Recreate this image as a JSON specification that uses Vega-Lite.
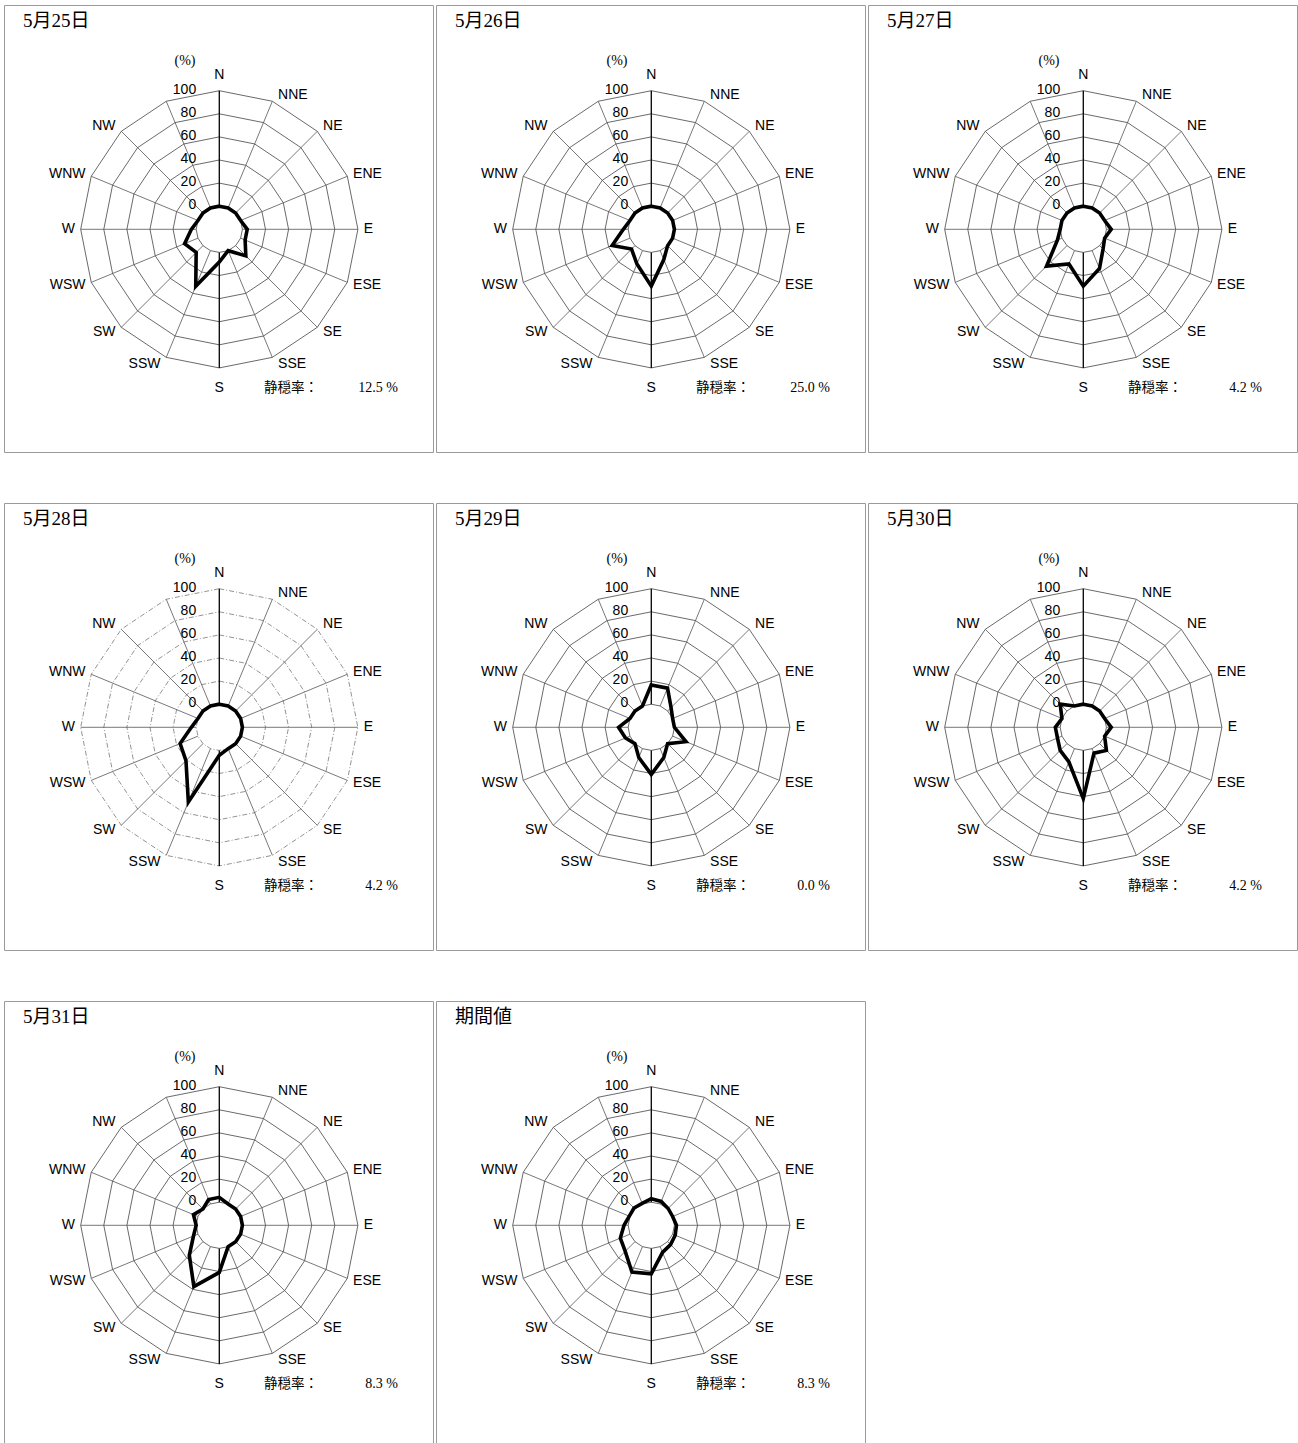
{
"$schema": "https://vega.github.io/schema/vega-lite/v6.json",
"padding": {"left": 3, "top": 4, "right": 0, "bottom": 0},
"background": "white",
"data": {"values": [
{"day":"5月25日","idx":0,"dir":"N","v":0},{"day":"5月25日","idx":1,"dir":"NNE","v":0},{"day":"5月25日","idx":2,"dir":"NE","v":0},{"day":"5月25日","idx":3,"dir":"ENE","v":0},{"day":"5月25日","idx":4,"dir":"E","v":4.2},{"day":"5月25日","idx":5,"dir":"ESE","v":4.2},{"day":"5月25日","idx":6,"dir":"SE","v":12.5},{"day":"5月25日","idx":7,"dir":"SSE","v":0},{"day":"5月25日","idx":8,"dir":"S","v":8.3},{"day":"5月25日","idx":9,"dir":"SSW","v":33.3},{"day":"5月25日","idx":10,"dir":"SW","v":8.3},{"day":"5月25日","idx":11,"dir":"WSW","v":12.5},{"day":"5月25日","idx":12,"dir":"W","v":4.2},{"day":"5月25日","idx":13,"dir":"WNW","v":0},{"day":"5月25日","idx":14,"dir":"NW","v":0},{"day":"5月25日","idx":15,"dir":"NNW","v":0},
{"day":"5月26日","idx":0,"dir":"N","v":0},{"day":"5月26日","idx":1,"dir":"NNE","v":0},{"day":"5月26日","idx":2,"dir":"NE","v":0},{"day":"5月26日","idx":3,"dir":"ENE","v":0},{"day":"5月26日","idx":4,"dir":"E","v":0},{"day":"5月26日","idx":5,"dir":"ESE","v":0},{"day":"5月26日","idx":6,"dir":"SE","v":0},{"day":"5月26日","idx":7,"dir":"SSE","v":8.3},{"day":"5月26日","idx":8,"dir":"S","v":29.2},{"day":"5月26日","idx":9,"dir":"SSW","v":12.5},{"day":"5月26日","idx":10,"dir":"SW","v":4.2},{"day":"5月26日","idx":11,"dir":"WSW","v":16.7},{"day":"5月26日","idx":12,"dir":"W","v":4.2},{"day":"5月26日","idx":13,"dir":"WNW","v":0},{"day":"5月26日","idx":14,"dir":"NW","v":0},{"day":"5月26日","idx":15,"dir":"NNW","v":0},
{"day":"5月27日","idx":0,"dir":"N","v":0},{"day":"5月27日","idx":1,"dir":"NNE","v":0},{"day":"5月27日","idx":2,"dir":"NE","v":0},{"day":"5月27日","idx":3,"dir":"ENE","v":0},{"day":"5月27日","idx":4,"dir":"E","v":4.2},{"day":"5月27日","idx":5,"dir":"ESE","v":0},{"day":"5月27日","idx":6,"dir":"SE","v":4.2},{"day":"5月27日","idx":7,"dir":"SSE","v":16.7},{"day":"5月27日","idx":8,"dir":"S","v":29.2},{"day":"5月27日","idx":9,"dir":"SSW","v":12.5},{"day":"5月27日","idx":10,"dir":"SW","v":25.0},{"day":"5月27日","idx":11,"dir":"WSW","v":4.2},{"day":"5月27日","idx":12,"dir":"W","v":0},{"day":"5月27日","idx":13,"dir":"WNW","v":0},{"day":"5月27日","idx":14,"dir":"NW","v":0},{"day":"5月27日","idx":15,"dir":"NNW","v":0},
{"day":"5月28日","idx":0,"dir":"N","v":0},{"day":"5月28日","idx":1,"dir":"NNE","v":0},{"day":"5月28日","idx":2,"dir":"NE","v":0},{"day":"5月28日","idx":3,"dir":"ENE","v":0},{"day":"5月28日","idx":4,"dir":"E","v":0},{"day":"5月28日","idx":5,"dir":"ESE","v":0},{"day":"5月28日","idx":6,"dir":"SE","v":0},{"day":"5月28日","idx":7,"dir":"SSE","v":0},{"day":"5月28日","idx":8,"dir":"S","v":4.2},{"day":"5月28日","idx":9,"dir":"SSW","v":50.0},{"day":"5月28日","idx":10,"dir":"SW","v":20.8},{"day":"5月28日","idx":11,"dir":"WSW","v":16.7},{"day":"5月28日","idx":12,"dir":"W","v":4.2},{"day":"5月28日","idx":13,"dir":"WNW","v":0},{"day":"5月28日","idx":14,"dir":"NW","v":0},{"day":"5月28日","idx":15,"dir":"NNW","v":0},
{"day":"5月29日","idx":0,"dir":"N","v":16.7},{"day":"5月29日","idx":1,"dir":"NNE","v":16.7},{"day":"5月29日","idx":2,"dir":"NE","v":4.2},{"day":"5月29日","idx":3,"dir":"ENE","v":0},{"day":"5月29日","idx":4,"dir":"E","v":0},{"day":"5月29日","idx":5,"dir":"ESE","v":12.5},{"day":"5月29日","idx":6,"dir":"SE","v":0},{"day":"5月29日","idx":7,"dir":"SSE","v":8.3},{"day":"5月29日","idx":8,"dir":"S","v":20.8},{"day":"5月29日","idx":9,"dir":"SSW","v":8.3},{"day":"5月29日","idx":10,"dir":"SW","v":0},{"day":"5月29日","idx":11,"dir":"WSW","v":4.2},{"day":"5月29日","idx":12,"dir":"W","v":8.3},{"day":"5月29日","idx":13,"dir":"WNW","v":0},{"day":"5月29日","idx":14,"dir":"NW","v":0},{"day":"5月29日","idx":15,"dir":"NNW","v":0},
{"day":"5月30日","idx":0,"dir":"N","v":0},{"day":"5月30日","idx":1,"dir":"NNE","v":0},{"day":"5月30日","idx":2,"dir":"NE","v":0},{"day":"5月30日","idx":3,"dir":"ENE","v":0},{"day":"5月30日","idx":4,"dir":"E","v":4.2},{"day":"5月30日","idx":5,"dir":"ESE","v":0},{"day":"5月30日","idx":6,"dir":"SE","v":8.3},{"day":"5月30日","idx":7,"dir":"SSE","v":4.2},{"day":"5月30日","idx":8,"dir":"S","v":41.7},{"day":"5月30日","idx":9,"dir":"SSW","v":12.5},{"day":"5月30日","idx":10,"dir":"SW","v":8.3},{"day":"5月30日","idx":11,"dir":"WSW","v":4.2},{"day":"5月30日","idx":12,"dir":"W","v":4.2},{"day":"5月30日","idx":13,"dir":"WNW","v":0},{"day":"5月30日","idx":14,"dir":"NW","v":8.3},{"day":"5月30日","idx":15,"dir":"NNW","v":0},
{"day":"5月31日","idx":0,"dir":"N","v":4.2},{"day":"5月31日","idx":1,"dir":"NNE","v":0},{"day":"5月31日","idx":2,"dir":"NE","v":0},{"day":"5月31日","idx":3,"dir":"ENE","v":0},{"day":"5月31日","idx":4,"dir":"E","v":0},{"day":"5月31日","idx":5,"dir":"ESE","v":0},{"day":"5月31日","idx":6,"dir":"SE","v":0},{"day":"5月31日","idx":7,"dir":"SSE","v":0},{"day":"5月31日","idx":8,"dir":"S","v":20.8},{"day":"5月31日","idx":9,"dir":"SSW","v":37.5},{"day":"5月31日","idx":10,"dir":"SW","v":16.7},{"day":"5月31日","idx":11,"dir":"WSW","v":4.2},{"day":"5月31日","idx":12,"dir":"W","v":0},{"day":"5月31日","idx":13,"dir":"WNW","v":4.2},{"day":"5月31日","idx":14,"dir":"NW","v":0},{"day":"5月31日","idx":15,"dir":"NNW","v":4.2},
{"day":"期間値","idx":0,"dir":"N","v":3.0},{"day":"期間値","idx":1,"dir":"NNE","v":2.4},{"day":"期間値","idx":2,"dir":"NE","v":0.6},{"day":"期間値","idx":3,"dir":"ENE","v":0},{"day":"期間値","idx":4,"dir":"E","v":1.8},{"day":"期間値","idx":5,"dir":"ESE","v":2.4},{"day":"期間値","idx":6,"dir":"SE","v":3.6},{"day":"期間値","idx":7,"dir":"SSE","v":5.4},{"day":"期間値","idx":8,"dir":"S","v":22.0},{"day":"期間値","idx":9,"dir":"SSW","v":23.8},{"day":"期間値","idx":10,"dir":"SW","v":11.9},{"day":"期間値","idx":11,"dir":"WSW","v":9.0},{"day":"期間値","idx":12,"dir":"W","v":3.6},{"day":"期間値","idx":13,"dir":"WNW","v":0.6},{"day":"期間値","idx":14,"dir":"NW","v":1.2},{"day":"期間値","idx":15,"dir":"NNW","v":0.6},
{"day":"5月25日","calm":12.5},{"day":"5月26日","calm":25.0},{"day":"5月27日","calm":4.2},{"day":"5月28日","calm":4.2},{"day":"5月29日","calm":0.0},{"day":"5月30日","calm":4.2},{"day":"5月31日","calm":8.3},{"day":"期間値","calm":8.3}
]},
"facet": {"field": "day", "type": "nominal", "header": {"title": null, "labels": false, "labelExpr": "''", "labelFontSize": 0, "labelPadding": 0}, "sort": ["5月25日","5月26日","5月27日","5月28日","5月29日","5月30日","5月31日","期間値"]},
"columns": 3,
"spacing": {"row": 49, "column": 1},
"spec": {
 "width": 429, "height": 447,
 "encoding": {
  "x": {"field": "px", "type": "quantitative", "scale": {"domain": [-186.4, 185.03], "nice": false, "zero": false}, "axis": null},
  "y": {"field": "py", "type": "quantitative", "scale": {"domain": [-192.8, 194.2], "nice": false, "zero": false}, "axis": null}
 },
 "layer": [
  {"transform": [
    {"filter": "isValid(datum.dir) && datum.day !== '5月28日'"},
    {"calculate": "[0,20,40,60,80,100]", "as": "ring"},
    {"flatten": ["ring"]},
    {"calculate": "(datum.ring+20)*sin(datum.idx*PI/8)", "as": "px"},
    {"calculate": "(datum.ring+20)*cos(datum.idx*PI/8)", "as": "py"}],
   "mark": {"type": "line", "interpolate": "linear-closed", "stroke": "#444", "strokeWidth": 0.8},
   "encoding": {"detail": {"field": "ring", "type": "nominal"}, "order": {"field": "idx", "type": "quantitative"}}},
  {"transform": [
    {"filter": "isValid(datum.dir) && datum.day === '5月28日'"},
    {"calculate": "[0,20,40,60,80,100]", "as": "ring"},
    {"flatten": ["ring"]},
    {"calculate": "(datum.ring+20)*sin(datum.idx*PI/8)", "as": "px"},
    {"calculate": "(datum.ring+20)*cos(datum.idx*PI/8)", "as": "py"}],
   "mark": {"type": "line", "interpolate": "linear-closed", "stroke": "#777", "strokeWidth": 0.8, "strokeDash": [5, 2, 1, 2]},
   "encoding": {"detail": {"field": "ring", "type": "nominal"}, "order": {"field": "idx", "type": "quantitative"}}},
  {"transform": [
    {"filter": "isValid(datum.dir)"},
    {"calculate": "20*sin(datum.idx*PI/8)", "as": "px"},
    {"calculate": "20*cos(datum.idx*PI/8)", "as": "py"},
    {"calculate": "120*sin(datum.idx*PI/8)", "as": "px2"},
    {"calculate": "120*cos(datum.idx*PI/8)", "as": "py2"}],
   "mark": {"type": "rule"},
   "encoding": {
    "x2": {"field": "px2"}, "y2": {"field": "py2"},
    "color": {"condition": {"test": "datum.idx % 8 === 0", "value": "#000"}, "value": "#555"},
    "strokeWidth": {"condition": {"test": "datum.idx % 8 === 0", "value": 1.3}, "value": 0.8}}},
  {"transform": [
    {"filter": "isValid(datum.dir)"},
    {"calculate": "(datum.v+20)*sin(datum.idx*PI/8)", "as": "px"},
    {"calculate": "(datum.v+20)*cos(datum.idx*PI/8)", "as": "py"}],
   "mark": {"type": "line", "interpolate": "linear-closed", "stroke": "#000", "strokeWidth": 3.6, "strokeJoin": "miter"},
   "encoding": {"order": {"field": "idx", "type": "quantitative"}}},
  {"transform": [
    {"filter": "isValid(datum.dir) && datum.idx > 0 && datum.idx < 8"},
    {"calculate": "120*sin(datum.idx*PI/8) + 5", "as": "px"},
    {"calculate": "126*cos(datum.idx*PI/8)", "as": "py"}],
   "mark": {"type": "text", "align": "left", "baseline": "middle", "font": "Liberation Sans", "fontSize": 14, "color": "#000"},
   "encoding": {"text": {"field": "dir", "type": "nominal"}}},
  {"transform": [
    {"filter": "isValid(datum.dir) && datum.idx > 8 && datum.idx < 15"},
    {"calculate": "120*sin(datum.idx*PI/8) - 5", "as": "px"},
    {"calculate": "126*cos(datum.idx*PI/8)", "as": "py"}],
   "mark": {"type": "text", "align": "right", "baseline": "middle", "font": "Liberation Sans", "fontSize": 14, "color": "#000"},
   "encoding": {"text": {"field": "dir", "type": "nominal"}}},
  {"transform": [
    {"filter": "isValid(datum.dir) && datum.idx % 8 === 0"},
    {"calculate": "0", "as": "px"},
    {"calculate": "datum.idx === 0 ? 134 : -137", "as": "py"}],
   "mark": {"type": "text", "align": "center", "baseline": "middle", "font": "Liberation Sans", "fontSize": 14, "color": "#000"},
   "encoding": {"text": {"field": "dir", "type": "nominal"}}},
  {"transform": [
    {"filter": "isValid(datum.dir) && datum.idx === 0"},
    {"calculate": "[0,20,40,60,80,100]", "as": "ring"},
    {"flatten": ["ring"]},
    {"calculate": "-20", "as": "px"},
    {"calculate": "datum.ring + 21", "as": "py"}],
   "mark": {"type": "text", "align": "right", "baseline": "middle", "font": "Liberation Sans", "fontSize": 14, "color": "#000"},
   "encoding": {"text": {"field": "ring", "type": "quantitative"}}},
  {"transform": [
    {"filter": "isValid(datum.calm)"},
    {"calculate": "-29.7", "as": "px"},
    {"calculate": "145.7", "as": "py"}],
   "mark": {"type": "text", "align": "center", "baseline": "middle", "font": "Liberation Serif, Noto Sans CJK JP", "fontSize": 14, "color": "#000"},
   "encoding": {"text": {"value": "(%)"}}},
  {"transform": [
    {"filter": "isValid(datum.calm)"},
    {"calculate": "-170", "as": "px"},
    {"calculate": "180", "as": "py"}],
   "mark": {"type": "text", "align": "left", "baseline": "middle", "font": "Liberation Serif, Noto Sans CJK JP", "fontSize": 19, "fontWeight": "normal", "color": "#000"},
   "encoding": {"text": {"field": "day", "type": "nominal"}}},
  {"transform": [
    {"filter": "isValid(datum.calm)"},
    {"calculate": "38.7", "as": "px"},
    {"calculate": "-137.4", "as": "py"}],
   "mark": {"type": "text", "align": "left", "baseline": "middle", "font": "Liberation Serif, Noto Sans CJK JP", "fontSize": 13.5, "color": "#000"},
   "encoding": {"text": {"value": "静穏率："}}},
  {"transform": [
    {"filter": "isValid(datum.calm)"},
    {"calculate": "154.6", "as": "px"},
    {"calculate": "-137.4", "as": "py"},
    {"calculate": "format(datum.calm, '.1f') + '  %'", "as": "calmLabel"}],
   "mark": {"type": "text", "align": "right", "baseline": "middle", "font": "Liberation Serif, Noto Sans CJK JP", "fontSize": 14, "color": "#000"},
   "encoding": {"text": {"field": "calmLabel", "type": "nominal"}}}
 ]
},
"config": {"view": {"stroke": "#9a9a9a", "strokeWidth": 1}, "header": {"labels": false, "title": null, "labelPadding": 0}, "headerFacet": {"labels": false, "title": null, "labelPadding": 0}}
}
